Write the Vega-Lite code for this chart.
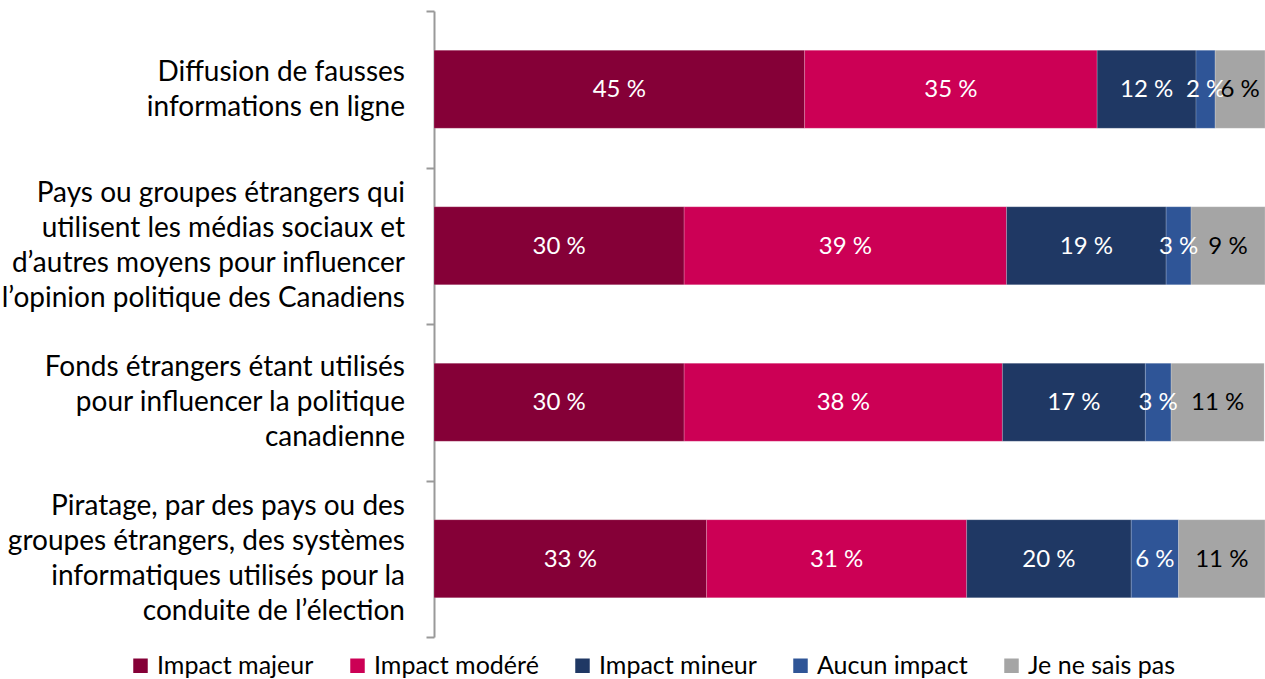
{
  "$schema": "https://vega.github.io/schema/vega-lite/v6.json",
  "autosize": {"type": "none"},
  "padding": {"left": 434, "top": 11, "right": 0, "bottom": 42},
  "width": 831,
  "height": 626,
  "data": {
    "values": [
      {"q": "Diffusion de fausses|informations en ligne", "r": "Impact majeur", "o": 1, "v": 44.6, "label": "45 %"},
      {"q": "Diffusion de fausses|informations en ligne", "r": "Impact modéré", "o": 2, "v": 35.2, "label": "35 %"},
      {"q": "Diffusion de fausses|informations en ligne", "r": "Impact mineur", "o": 3, "v": 11.9, "label": "12 %"},
      {"q": "Diffusion de fausses|informations en ligne", "r": "Aucun impact", "o": 4, "v": 2.3, "label": "2 %"},
      {"q": "Diffusion de fausses|informations en ligne", "r": "Je ne sais pas", "o": 5, "v": 6.0, "label": "6 %"},
      {"q": "Pays ou groupes étrangers qui|utilisent les médias sociaux et|d’autres moyens pour influencer|l’opinion politique des Canadiens", "r": "Impact majeur", "o": 1, "v": 30.1, "label": "30 %"},
      {"q": "Pays ou groupes étrangers qui|utilisent les médias sociaux et|d’autres moyens pour influencer|l’opinion politique des Canadiens", "r": "Impact modéré", "o": 2, "v": 38.8, "label": "39 %"},
      {"q": "Pays ou groupes étrangers qui|utilisent les médias sociaux et|d’autres moyens pour influencer|l’opinion politique des Canadiens", "r": "Impact mineur", "o": 3, "v": 19.2, "label": "19 %"},
      {"q": "Pays ou groupes étrangers qui|utilisent les médias sociaux et|d’autres moyens pour influencer|l’opinion politique des Canadiens", "r": "Aucun impact", "o": 4, "v": 3.0, "label": "3 %"},
      {"q": "Pays ou groupes étrangers qui|utilisent les médias sociaux et|d’autres moyens pour influencer|l’opinion politique des Canadiens", "r": "Je ne sais pas", "o": 5, "v": 8.9, "label": "9 %"},
      {"q": "Fonds étrangers étant utilisés|pour influencer la politique|canadienne", "r": "Impact majeur", "o": 1, "v": 30.1, "label": "30 %"},
      {"q": "Fonds étrangers étant utilisés|pour influencer la politique|canadienne", "r": "Impact modéré", "o": 2, "v": 38.3, "label": "38 %"},
      {"q": "Fonds étrangers étant utilisés|pour influencer la politique|canadienne", "r": "Impact mineur", "o": 3, "v": 17.2, "label": "17 %"},
      {"q": "Fonds étrangers étant utilisés|pour influencer la politique|canadienne", "r": "Aucun impact", "o": 4, "v": 3.1, "label": "3 %"},
      {"q": "Fonds étrangers étant utilisés|pour influencer la politique|canadienne", "r": "Je ne sais pas", "o": 5, "v": 11.2, "label": "11 %"},
      {"q": "Piratage, par des pays ou des|groupes étrangers, des systèmes|informatiques utilisés pour la|conduite de l’élection", "r": "Impact majeur", "o": 1, "v": 32.8, "label": "33 %"},
      {"q": "Piratage, par des pays ou des|groupes étrangers, des systèmes|informatiques utilisés pour la|conduite de l’élection", "r": "Impact modéré", "o": 2, "v": 31.3, "label": "31 %"},
      {"q": "Piratage, par des pays ou des|groupes étrangers, des systèmes|informatiques utilisés pour la|conduite de l’élection", "r": "Impact mineur", "o": 3, "v": 19.8, "label": "20 %"},
      {"q": "Piratage, par des pays ou des|groupes étrangers, des systèmes|informatiques utilisés pour la|conduite de l’élection", "r": "Aucun impact", "o": 4, "v": 5.7, "label": "6 %"},
      {"q": "Piratage, par des pays ou des|groupes étrangers, des systèmes|informatiques utilisés pour la|conduite de l’élection", "r": "Je ne sais pas", "o": 5, "v": 10.4, "label": "11 %"}
    ]
  },
  "config": {
    "view": {"stroke": null},
    "font": "Lato"
  },
  "encoding": {
    "y": {
      "field": "q",
      "type": "nominal",
      "sort": null,
      "title": null,
      "scale": {"paddingInner": 0, "paddingOuter": 0},
      "axis": {
        "labels": false,
        "tickBand": "extent",
        "tickSize": 8,
        "tickColor": "#999999",
        "domainColor": "#999999",
        "domainWidth": 2,
        "tickWidth": 2
      }
    }
  },
  "layer": [
    {
      "mark": {"type": "bar", "size": 78, "stroke": "#ffffff", "strokeOpacity": 0.3, "strokeWidth": 0.6},
      "encoding": {
        "x": {
          "field": "v",
          "type": "quantitative",
          "stack": "zero",
          "scale": {"domain": [0, 100], "nice": false},
          "axis": null
        },
        "order": {"field": "o", "type": "quantitative"},
        "color": {
          "field": "r",
          "type": "nominal",
          "sort": ["Impact majeur", "Impact modéré", "Impact mineur", "Aucun impact", "Je ne sais pas"],
          "scale": {
            "domain": ["Impact majeur", "Impact modéré", "Impact mineur", "Aucun impact", "Je ne sais pas"],
            "range": ["#850037", "#CC0055", "#1F3864", "#2F5597", "#A5A5A5"]
          },
          "legend": {
            "title": null,
            "orient": "none",
            "direction": "horizontal",
            "legendX": -306,
            "legendY": 642,
            "symbolType": "square",
            "symbolSize": 210,
            "symbolStrokeWidth": 0,
            "labelFont": "Lato",
            "labelFontSize": 25,
            "labelColor": "#000000",
            "labelOffset": 4,
            "columnPadding": 31,
            "labelLimit": 300
          }
        }
      }
    },
    {
      "mark": {"type": "text", "fontSize": 24, "font": "Lato", "align": "center", "baseline": "middle", "dy": 1},
      "encoding": {
        "x": {"field": "v", "type": "quantitative", "stack": "zero", "bandPosition": 0.5},
        "order": {"field": "o", "type": "quantitative"},
        "text": {"field": "label"},
        "color": {
          "condition": {"test": "datum.r === 'Je ne sais pas'", "value": "#000000"},
          "value": "#ffffff"
        }
      }
    },
    {
      "transform": [{"filter": "datum.o === 1"}],
      "mark": {
        "type": "text",
        "fontSize": 28,
        "font": "Lato",
        "align": "right",
        "baseline": "middle",
        "lineBreak": "|",
        "lineHeight": 35,
        "dx": -29,
        "dy": {"expr": "-(length(split(datum.q, '|')) - 1) * 17.5 + 1"},
        "color": "#000000"
      },
      "encoding": {
        "x": {"datum": 0},
        "text": {"field": "q"}
      }
    }
  ]
}
